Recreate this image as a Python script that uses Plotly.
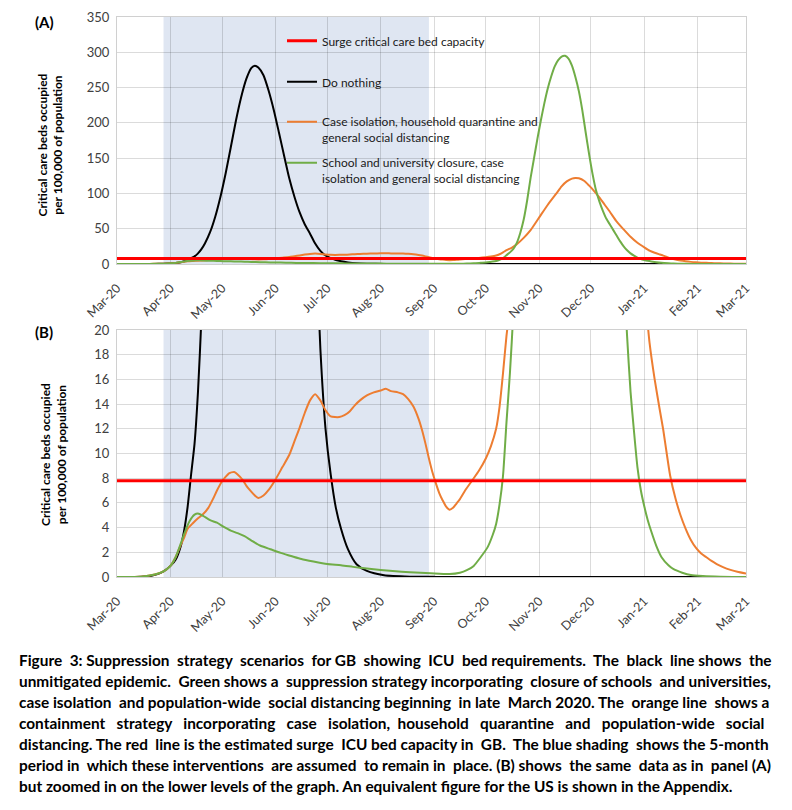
import plotly.graph_objects as go

# ---------------- data ----------------
black_dates = ["2020-03-01", "2020-03-15", "2020-03-21", "2020-03-25", "2020-03-28", "2020-04-01",
               "2020-04-04", "2020-04-07", "2020-04-09", "2020-04-11", "2020-04-13", "2020-04-15",
               "2020-04-17", "2020-04-19", "2020-04-21", "2020-04-24", "2020-04-27", "2020-04-30",
               "2020-05-03", "2020-05-06", "2020-05-09", "2020-05-12", "2020-05-15", "2020-05-18",
               "2020-05-20", "2020-05-22", "2020-05-25", "2020-05-28", "2020-05-31", "2020-06-03",
               "2020-06-06", "2020-06-09", "2020-06-12", "2020-06-15", "2020-06-18", "2020-06-21",
               "2020-06-24", "2020-06-27", "2020-06-30", "2020-07-03", "2020-07-06", "2020-07-09",
               "2020-07-13", "2020-07-18", "2020-07-24", "2020-08-03", "2020-08-18", "2020-09-02",
               "2021-03-01"]
black_vals = [0, 0.02, 0.1, 0.25, 0.45, 0.9,
              1.4, 2.5, 3.8, 5.7, 8.3, 10.8,
              15, 21, 29, 45, 67, 95,
              128, 165, 203, 236, 262, 278,
              281, 278.5, 267.5, 245.5, 218, 186,
              153, 121, 95, 73, 56, 43,
              29, 18.5, 12, 8.3, 5.6, 3.9,
              2.25, 1.03, 0.49, 0.14, 0.03, 0.01,
              0]

orange_dates = ["2020-03-01", "2020-03-15", "2020-03-20", "2020-03-25", "2020-03-28", "2020-04-01",
                "2020-04-04", "2020-04-07", "2020-04-09", "2020-04-11", "2020-04-14", "2020-04-17",
                "2020-04-20", "2020-04-23", "2020-04-26", "2020-04-28", "2020-05-01", "2020-05-03",
                "2020-05-05", "2020-05-08", "2020-05-10", "2020-05-13", "2020-05-15", "2020-05-17",
                "2020-05-20", "2020-05-22", "2020-05-25", "2020-05-28", "2020-06-01", "2020-06-05",
                "2020-06-09", "2020-06-12", "2020-06-15", "2020-06-18", "2020-06-21", "2020-06-24",
                "2020-06-27", "2020-06-30", "2020-07-03", "2020-07-08", "2020-07-11", "2020-07-14",
                "2020-07-17", "2020-07-20", "2020-07-24", "2020-07-28", "2020-08-01", "2020-08-04",
                "2020-08-07", "2020-08-11", "2020-08-14", "2020-08-17", "2020-08-20", "2020-08-23",
                "2020-08-25", "2020-08-27", "2020-08-29", "2020-08-31", "2020-09-02", "2020-09-04",
                "2020-09-06", "2020-09-08", "2020-09-10", "2020-09-12", "2020-09-14", "2020-09-16",
                "2020-09-19", "2020-09-23", "2020-09-27", "2020-10-01", "2020-10-04", "2020-10-07",
                "2020-10-09", "2020-10-11", "2020-10-13", "2020-10-16", "2020-10-19", "2020-10-23",
                "2020-10-27", "2020-11-01", "2020-11-06", "2020-11-11", "2020-11-14", "2020-11-17",
                "2020-11-20", "2020-11-22", "2020-11-24", "2020-11-27", "2020-11-30", "2020-12-03",
                "2020-12-06", "2020-12-09", "2020-12-12", "2020-12-16", "2020-12-20", "2020-12-24",
                "2020-12-28", "2021-01-01", "2021-01-04", "2021-01-07", "2021-01-10", "2021-01-12",
                "2021-01-14", "2021-01-16", "2021-01-19", "2021-01-22", "2021-01-25", "2021-01-28",
                "2021-01-31", "2021-02-03", "2021-02-06", "2021-02-09", "2021-02-12", "2021-02-16",
                "2021-02-20", "2021-02-24", "2021-03-01"]
orange_vals = [0, 0.02, 0.12, 0.28, 0.45, 0.9,
               1.6, 2.6, 3.2, 3.9, 4.35, 4.75,
               5.1, 5.6, 6.4, 7.0, 7.75, 8.1,
               8.4, 8.5, 8.3, 7.85, 7.4, 7.05,
               6.6, 6.4, 6.6, 7.05, 7.9, 8.9,
               9.9, 11.0, 12.1, 13.3, 14.3, 14.8,
               14.3, 13.5, 13.0, 12.95, 13.1, 13.4,
               13.9, 14.3, 14.7, 14.95, 15.1, 15.25,
               15.05, 14.95, 14.8, 14.4, 13.8, 12.8,
               11.9, 10.8, 9.6, 8.5, 7.6, 6.8,
               6.2, 5.7, 5.45, 5.6, 5.95, 6.3,
               7.0, 7.8, 8.6, 9.6, 10.6, 12.0,
               13.8, 16.5, 19.5, 23, 28, 37,
               48, 66, 84, 100, 110, 117,
               121, 122, 121.5, 118, 111, 103,
               94, 84, 74, 60, 49, 38.5,
               30, 23.5, 19, 16, 13.5, 11.9,
               10, 8.2, 6.4, 5.0, 3.9, 3.0,
               2.35, 1.9, 1.6, 1.3, 1.05, 0.78,
               0.58, 0.42, 0.28]

green_dates = ["2020-03-01", "2020-03-15", "2020-03-20", "2020-03-25", "2020-03-28", "2020-04-01",
               "2020-04-04", "2020-04-07", "2020-04-09", "2020-04-12", "2020-04-15", "2020-04-17",
               "2020-04-20", "2020-04-24", "2020-04-28", "2020-05-02", "2020-05-06", "2020-05-10",
               "2020-05-14", "2020-05-18", "2020-05-23", "2020-05-29", "2020-06-04", "2020-06-10",
               "2020-06-16", "2020-06-23", "2020-07-01", "2020-07-09", "2020-07-16", "2020-07-24",
               "2020-08-01", "2020-08-08", "2020-08-18", "2020-08-30", "2020-09-10", "2020-09-16",
               "2020-09-20", "2020-09-24", "2020-09-28", "2020-10-02", "2020-10-05", "2020-10-07",
               "2020-10-09", "2020-10-11", "2020-10-13", "2020-10-15", "2020-10-17", "2020-10-19",
               "2020-10-21", "2020-10-23", "2020-10-25", "2020-10-27", "2020-10-29", "2020-10-31",
               "2020-11-02", "2020-11-04", "2020-11-06", "2020-11-08", "2020-11-10", "2020-11-12",
               "2020-11-14", "2020-11-16", "2020-11-18", "2020-11-20", "2020-11-22", "2020-11-24",
               "2020-11-26", "2020-11-28", "2020-11-30", "2020-12-02", "2020-12-04", "2020-12-06",
               "2020-12-08", "2020-12-10", "2020-12-12", "2020-12-14", "2020-12-16", "2020-12-18",
               "2020-12-20", "2020-12-22", "2020-12-24", "2020-12-26", "2020-12-28", "2020-12-30",
               "2021-01-01", "2021-01-03", "2021-01-05", "2021-01-08", "2021-01-11", "2021-01-15",
               "2021-01-18", "2021-01-23", "2021-01-28", "2021-02-04", "2021-02-14", "2021-03-01"]
green_vals = [0, 0.02, 0.12, 0.28, 0.45, 0.9,
              1.6, 2.7, 3.5, 4.5, 5.05, 5.15,
              4.95, 4.6, 4.4, 4.05, 3.75, 3.55,
              3.3, 2.95, 2.55, 2.25, 1.95, 1.7,
              1.45, 1.25, 1.05, 0.95, 0.82, 0.68,
              0.56, 0.48, 0.38, 0.3, 0.24, 0.35,
              0.55, 0.9, 1.6, 2.4, 3.4, 4.3,
              5.9, 8.2, 12.5, 16.5, 21.5, 30,
              44, 63, 90, 122, 150, 178,
              204, 228, 249, 266, 280, 289,
              294, 295, 291, 281, 265, 245,
              218, 186, 155, 127, 104, 88,
              75, 64, 56, 48, 40, 32,
              25, 19.5, 15, 11.8, 8.9, 7.0,
              5.7, 4.6, 3.7, 2.5, 1.6, 0.95,
              0.63, 0.35, 0.16, 0.08, 0.03, 0.01]

capacity_dates = ["2020-03-01", "2021-03-01"]
capacity_vals = [7.8, 7.8]

shading_period = ["2020-03-28", "2020-08-29"]

series_names = ["Surge critical care bed capacity",
                "Do nothing",
                "Case isolation, household quarantine and<br>general social distancing",
                "School and university closure, case<br>isolation and general social distancing"]

caption_lines = [
    "Figure 3: Suppression strategy scenarios for GB showing ICU bed requirements. The black line shows the",
    "unmitigated epidemic. Green shows a suppression strategy incorporating closure of schools and universities,",
    "case isolation and population-wide social distancing beginning in late March 2020. The orange line shows a",
    "containment strategy incorporating case isolation, household quarantine and population-wide social",
    "distancing. The red line is the estimated surge ICU bed capacity in GB.  The blue shading shows the 5-month",
    "period in which these interventions are assumed to remain in place. (B) shows the same data as in panel (A)",
    "but zoomed in on the lower levels of the graph. An equivalent figure for the US is shown in the Appendix.",
]
# extra word-gap spaces that imitate the justified caption paragraph
caption_pad = [11, 4, 6, 17, 4, 7, 0]

# ---------------- layout helpers ----------------
W, H = 792, 810
FONT = "Lato"


def fx(p):
    return p / W


def fy(p):
    return 1 - p / H


def justify(line, extra):
    words = line.split(" ")
    gaps = len(words) - 1
    if extra <= 0 or gaps <= 0:
        return line
    out = words[0]
    for i in range(gaps):
        k = round((i + 1) * extra / gaps) - round(i * extra / gaps)
        sep = "\u00a0" if words[i + 1] == "" else " "
        out += sep + "\u00a0" * k + words[i + 1]
    return out


RED, BLACK, ORANGE, GREEN = "#FF0000", "#000000", "#ED7D31", "#70AD47"
GRID = "rgba(0,0,0,0.14)"

fig = go.Figure()

panels = [("x", "y", True), ("x2", "y2", False)]
for xa, ya, show in panels:
    fig.add_trace(go.Scatter(x=black_dates, y=black_vals, mode="lines", name=series_names[1],
                             line=dict(color=BLACK, width=2, shape="spline", smoothing=0.6),
                             xaxis=xa, yaxis=ya, showlegend=show, legend="legend2", hoverinfo="skip"))
    fig.add_trace(go.Scatter(x=orange_dates, y=orange_vals, mode="lines", name=series_names[2],
                             line=dict(color=ORANGE, width=2, shape="spline", smoothing=0.6),
                             xaxis=xa, yaxis=ya, showlegend=show, legend="legend3", hoverinfo="skip"))
    fig.add_trace(go.Scatter(x=green_dates, y=green_vals, mode="lines", name=series_names[3],
                             line=dict(color=GREEN, width=2, shape="spline", smoothing=0.6),
                             xaxis=xa, yaxis=ya, showlegend=show, legend="legend4", hoverinfo="skip"))
    fig.add_trace(go.Scatter(x=capacity_dates, y=capacity_vals, mode="lines", name=series_names[0],
                             line=dict(color=RED, width=3), xaxis=xa, yaxis=ya,
                             showlegend=show, legend="legend", hoverinfo="skip"))
    fig.add_shape(type="rect", xref=xa, yref=ya + " domain", x0=shading_period[0], x1=shading_period[1],
                  y0=0, y1=1, fillcolor="#DFE6F2", line=dict(width=0), layer="below")

xcommon = dict(type="date", range=["2020-03-01", "2021-03-01"], dtick="M1", tick0="2020-03-01",
               tickformat="%b-%y", tickangle=-45, showgrid=True, gridcolor=GRID, gridwidth=1,
               showline=True, linecolor="#D0D0D0", linewidth=1, mirror=True, zeroline=False,
               ticks="", ticklabelstandoff=11, automargin=False,
               tickfont=dict(family=FONT, size=12.5, color="#404040"))
ycommon = dict(showgrid=True, gridcolor=GRID, gridwidth=1, showline=True, linecolor="#D0D0D0",
               linewidth=1, mirror=True, zeroline=False, ticks="", ticklabelstandoff=4,
               automargin=False, tickfont=dict(family=FONT, size=13, color="#404040"))

legend_common = dict(xanchor="left", yanchor="top", bgcolor="rgba(0,0,0,0)", borderwidth=0,
                     font=dict(family=FONT, size=12, color="#1a1a1a"), itemwidth=30, valign="top",
                     itemclick=False, itemdoubleclick=False)

fig.update_layout(
    width=W, height=H, margin=dict(l=0, r=0, t=0, b=0),
    paper_bgcolor="white", plot_bgcolor="white", template="none",
    font=dict(family=FONT, color="#1a1a1a"),
    xaxis=dict(domain=[fx(117), fx(746)], anchor="y", **xcommon),
    yaxis=dict(domain=[fy(264), fy(17)], anchor="x", range=[0, 350], dtick=50, **ycommon),
    xaxis2=dict(domain=[fx(117), fx(746)], anchor="y2", **xcommon),
    yaxis2=dict(domain=[fy(577), fy(330)], anchor="x2", range=[0, 20], dtick=2, **ycommon),
    legend=dict(x=fx(282), y=fy(26.5), **legend_common),
    legend2=dict(x=fx(282), y=fy(67.5), **legend_common),
    legend3=dict(x=fx(282), y=fy(107.5), **legend_common),
    legend4=dict(x=fx(282), y=fy(148.5), **legend_common),
    showlegend=True,
)

annotations = [
    dict(text="<b>(A)</b>", x=fx(44), y=fy(22), xref="paper", yref="paper", showarrow=False,
         xanchor="center", yanchor="middle", font=dict(family=FONT, size=15, color="#000")),
    dict(text="<b>(B)</b>", x=fx(44), y=fy(332), xref="paper", yref="paper", showarrow=False,
         xanchor="center", yanchor="middle", font=dict(family=FONT, size=15, color="#000")),
    dict(text="<b>Critical care beds occupied<br>per 100,000 of population</b>", x=fx(49.5), y=fy(145),
         xref="paper", yref="paper", showarrow=False, textangle=-90, xanchor="center", yanchor="middle",
         font=dict(family=FONT, size=12, color="#000")),
    dict(text="<b>Critical care beds occupied<br>per 100,000 of population</b>", x=fx(54), y=fy(454),
         xref="paper", yref="paper", showarrow=False, textangle=-90, xanchor="center", yanchor="middle",
         font=dict(family=FONT, size=12, color="#000")),
]
for i, line in enumerate(caption_lines):
    annotations.append(dict(text="<b>" + justify(line, caption_pad[i]) + "</b>", x=fx(17),
                            y=fy(660 + 21 * i), xref="paper", yref="paper", xanchor="left",
                            yanchor="middle", showarrow=False,
                            font=dict(family=FONT, size=15.4, color="#000")))
fig.update_layout(annotations=annotations)

fig.write_html("out.html", config={"displayModeBar": False},
               post_script="document.body.style.margin='0px';")
